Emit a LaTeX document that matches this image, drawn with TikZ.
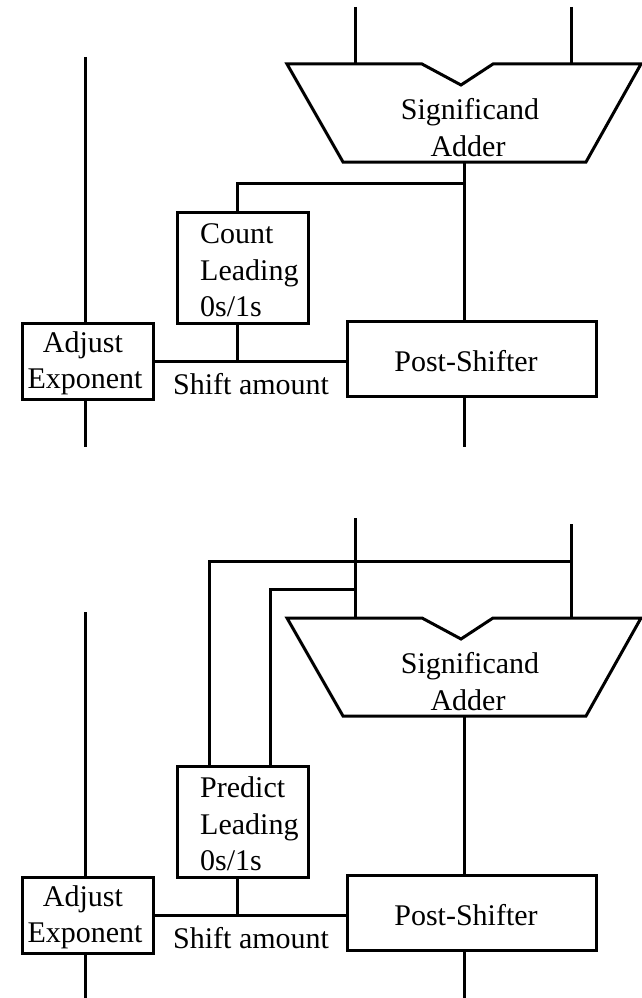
\documentclass[tikz,border=0pt]{standalone}
\usepackage{fontspec}
\setmainfont{Liberation Serif}
\begin{document}
\begin{tikzpicture}[x=1pt,y=-1pt,
  wire/.style={line width=3pt},
  blk/.style={draw,line width=3pt,rectangle,inner sep=0pt,fill=white},
  lbl/.style={inner sep=0pt,font=\fontsize{30}{37}\selectfont}]
\useasboundingbox (0,0) rectangle (642,998);

% ---------------- upper datapath: count leading digits after the add
\coordinate (inLa) at (355,7);
\coordinate (inRa) at (571,7);
\coordinate (addLa) at (355,64);
\coordinate (addRa) at (571,64);
\coordinate (addOa) at (464,162);
\draw[wire] (287,64) -- (422,64) -- (461,85) -- (493,64) -- (641,64)
  -- (586,162) -- (343,162) -- cycle;
\node[lbl,anchor=base] (adda1) at (470,119) {Significand};
\node[lbl,anchor=base] (adda2) at (468,156) {Adder};
\draw[wire] (inLa) -- (addLa);
\draw[wire] (inRa) -- (addRa);

\node[blk,minimum width=131pt,minimum height=111pt] (cnt) at (242.5,267.5) {};
\node[lbl,anchor=base west] (cnt1) at (200,243) {Count};
\node[lbl,anchor=base west] (cnt2) at (200,280) {Leading};
\node[lbl,anchor=base west] (cnt3) at (200,316) {0s/1s};

\node[blk,minimum width=131pt,minimum height=76pt] (adja) at (87.5,361) {};
\node[lbl,anchor=base] (adja1) at (83,352) {Adjust};
\node[lbl,anchor=base] (adja2) at (85,388) {Exponent};

\node[blk,minimum width=249pt,minimum height=75pt] (psa) at (471.5,358.5) {};
\node[lbl,anchor=base] (psa1) at (466,371) {Post-Shifter};

\node[lbl,anchor=base west] (sha) at (173,394) {Shift amount};

\coordinate (tapa) at (464,183);
\coordinate (expIna) at (85,57);
\coordinate (expOuta) at (85,447);
\coordinate (psOuta) at (464,447);

\draw[wire] (addOa) -- (addOa |- psa.north);
\draw[wire] (tapa) -| ([xshift=-5.5pt]cnt.north);
\draw[wire] ([xshift=-5.5pt]cnt.south) -- ([xshift=-5.5pt]cnt.south |- adja.east);
\draw[wire] (adja.east) -- (psa.west |- adja.east);
\draw[wire] (expIna) -- (expIna |- adja.north);
\draw[wire] (expIna |- adja.south) -- (expOuta);
\draw[wire] (psOuta |- psa.south) -- (psOuta);

% ---------------- lower datapath: predict leading digits beside the add
\coordinate (inLb) at (355,518);
\coordinate (inRb) at (571,524);
\coordinate (addLb) at (355,618);
\coordinate (addRb) at (571,618);
\coordinate (addOb) at (464,716);
\draw[wire] (287,618) -- (422,618) -- (461,639) -- (493,618) -- (641,618)
  -- (586,716) -- (343,716) -- cycle;
\node[lbl,anchor=base] (addb1) at (470,673) {Significand};
\node[lbl,anchor=base] (addb2) at (468,710) {Adder};
\draw[wire] (inLb) -- (addLb);
\draw[wire] (inRb) -- (addRb);

\node[blk,minimum width=131pt,minimum height=111pt] (prd) at (242.5,821.5) {};
\node[lbl,anchor=base west] (prd1) at (200,797) {Predict};
\node[lbl,anchor=base west] (prd2) at (200,834) {Leading};
\node[lbl,anchor=base west] (prd3) at (200,870) {0s/1s};

\node[blk,minimum width=131pt,minimum height=76pt] (adjb) at (87.5,915) {};
\node[lbl,anchor=base] (adjb1) at (83,906) {Adjust};
\node[lbl,anchor=base] (adjb2) at (85,942) {Exponent};

\node[blk,minimum width=249pt,minimum height=75pt] (psb) at (471.5,912.5) {};
\node[lbl,anchor=base] (psb1) at (466,925) {Post-Shifter};

\node[lbl,anchor=base west] (shb) at (173,948) {Shift amount};

\coordinate (tapR) at (571,561);
\coordinate (tapL) at (355,589);
\coordinate (expInb) at (85,612);
\coordinate (expOutb) at (85,998);
\coordinate (psOutb) at (464,998);

\draw[wire] (tapR) -| ([xshift=-33.5pt]prd.north);
\draw[wire] (tapL) -| ([xshift=27.5pt]prd.north);
\draw[wire] (addOb) -- (addOb |- psb.north);
\draw[wire] ([xshift=-5.5pt]prd.south) -- ([xshift=-5.5pt]prd.south |- adjb.east);
\draw[wire] (adjb.east) -- (psb.west |- adjb.east);
\draw[wire] (expInb) -- (expInb |- adjb.north);
\draw[wire] (expInb |- adjb.south) -- (expOutb);
\draw[wire] (psOutb |- psb.south) -- (psOutb);
\end{tikzpicture}
\end{document}
